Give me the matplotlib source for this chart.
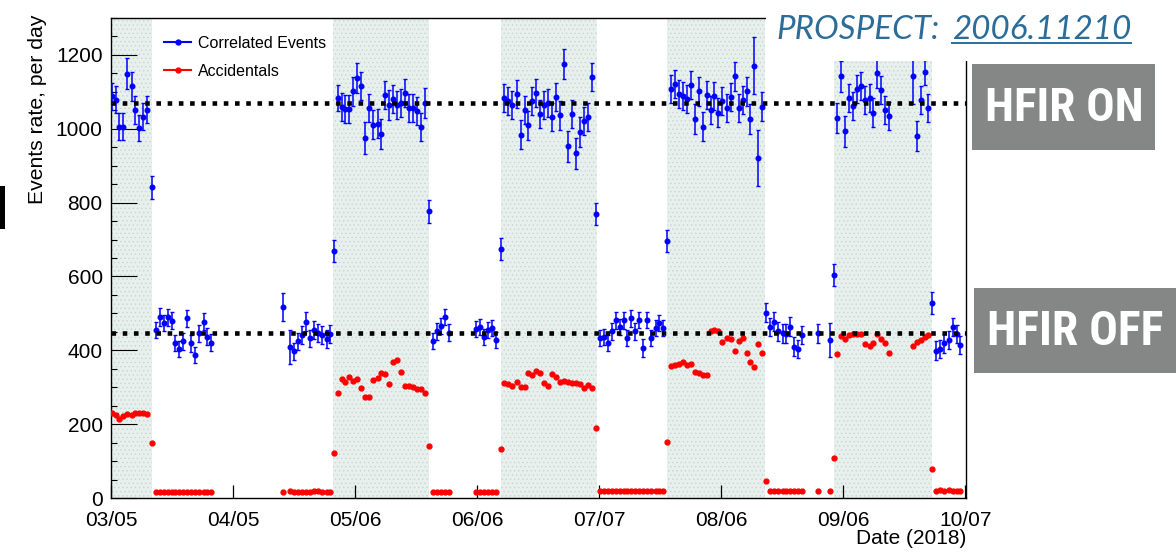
import matplotlib
matplotlib.use('Agg')
import matplotlib.pyplot as plt
from matplotlib import font_manager
from matplotlib.patches import Rectangle
from matplotlib.lines import Line2D

# days since 03/05/2018, one point per day (gaps where no data)
corr_day = [
    0.2, 1.2, 2.0, 3.1, 4.1, 5.2, 6.1, 7.2, 8.2, 9.2, 10.3,
    11.3, 12.3, 13.4, 14.4, 15.3, 16.2, 17.3, 18.2, 19.3, 20.3, 21.3, 22.3, 23.4, 24.4, 25.4,
    43.4, 45.3, 46.3, 47.4, 48.3, 49.3, 50.4, 51.4, 52.4, 53.4, 54.5, 55.5, 56.4,
    57.3, 58.3, 59.2, 60.2, 61.2, 62.3, 63.3, 64.3, 65.3, 66.3, 67.4, 68.4, 69.4, 70.4,
    71.3, 72.3, 73.4, 74.4, 75.4, 76.4, 77.4, 78.4, 79.4, 80.5,
    81.5, 82.5, 83.5, 84.4, 85.4, 92.3, 93.3, 94.3, 95.4, 96.4, 97.4, 98.5,
    99.5, 100.5, 101.5, 102.6, 103.6, 104.6, 105.5, 106.5, 107.5, 108.6, 109.6, 110.6,
    111.6, 112.6, 113.6, 114.6, 115.6, 116.5, 117.5, 118.5, 119.5, 120.5, 121.6, 122.6,
    123.6, 124.6, 125.6, 126.6, 127.6, 128.6, 129.6, 130.6, 131.6, 132.6, 133.6, 134.6,
    135.6, 136.6, 137.7, 138.6, 139.6, 140.5,
    141.6, 142.6, 143.6, 144.6, 145.6, 146.6, 147.7, 148.7, 149.7, 150.6, 151.6, 152.6,
    153.6, 154.6, 155.7, 156.7, 157.7, 158.7, 159.7, 160.7, 161.6, 162.6, 163.6, 164.7,
    165.7, 166.7, 167.7, 168.7, 169.8, 170.8, 171.8, 172.8, 173.8, 174.8, 178.8, 181.8, 182.8,
    183.7, 184.7, 185.7, 186.7, 187.7, 188.7, 189.7, 190.7, 191.8, 192.8, 193.8, 194.8,
    195.8, 196.7, 202.7, 203.8, 204.8, 205.8, 206.7, 207.7,
    208.7, 209.7, 210.7, 211.8, 212.8, 213.8, 214.8,
]

corr_rate = [
    1088, 1079, 1006, 1006, 1149, 1115, 1052, 1002, 1033, 1052, 841,
    455, 491, 473, 490, 480, 419, 404, 424, 487, 419, 388, 446, 477, 437, 421,
    518, 410, 397, 424, 442, 478, 433, 455, 446, 442, 430, 444, 670,
    1083, 1059, 1053, 1054, 1101, 1137, 1117, 975, 1055, 1011, 1014, 986, 1092, 1065,
    1081, 1065, 1071, 1097, 1055, 1055, 1049, 1006, 1070, 776,
    426, 451, 466, 491, 448, 458, 464, 437, 455, 460, 428, 674,
    1083, 1074, 1065, 1095, 984, 1050, 1009, 1074, 1098, 1041, 1065, 1070,
    1033, 1086, 1036, 1176, 952, 1041, 934, 991, 1020, 1032, 1139, 769,
    433, 436, 419, 451, 482, 464, 481, 433, 487, 451, 482, 406,
    482, 433, 460, 473, 460, 695,
    1108, 1122, 1095, 1090, 1081, 1119, 1026, 1101, 1006, 1092, 1050, 1089,
    1044, 1074, 1056, 1087, 1142, 1056, 1077, 1101, 1026, 1171, 921, 1060,
    502, 463, 478, 451, 446, 445, 464, 410, 403, 442, 446, 428, 604,
    1029, 1142, 993, 1083, 1062, 1108, 1115, 1079, 1083, 1044, 1151, 1104,
    1052, 1035, 1142, 981, 1077, 1153, 1056, 529,
    399, 403, 419, 428, 463, 444, 415,
]

corr_err = [
    37, 36, 36, 36, 42, 40, 38, 36, 36, 36, 30,
    22, 24, 22, 23, 23, 22, 22, 22, 23, 23, 22, 23, 23, 23, 22,
    38, 46, 24, 24, 24, 25, 23, 24, 24, 24, 24, 24, 30,
    36, 38, 38, 38, 38, 40, 38, 42, 38, 40, 40, 40, 38, 40,
    38, 38, 38, 38, 38, 38, 38, 38, 40, 30,
    22, 22, 22, 22, 22, 22, 22, 22, 22, 22, 22, 30,
    38, 38, 38, 38, 40, 38, 40, 38, 38, 38, 38, 38,
    38, 38, 38, 40, 42, 38, 42, 40, 38, 38, 38, 30,
    22, 22, 22, 22, 23, 22, 22, 22, 23, 22, 22, 24,
    22, 22, 22, 22, 22, 30,
    38, 38, 38, 38, 38, 38, 40, 38, 40, 38, 38, 38,
    38, 38, 38, 38, 40, 38, 38, 38, 40, 78, 76, 40,
    25, 25, 25, 25, 25, 25, 25, 25, 25, 25, 25, 45, 30,
    40, 42, 42, 38, 38, 38, 38, 38, 38, 38, 40, 38,
    38, 38, 75, 40, 38, 34, 38, 30,
    25, 25, 25, 25, 25, 25, 25,
]

acc_rate = [
    229, 225, 213, 221, 228, 225, 229, 231, 229, 228, 150,
    17, 17, 17, 17, 16, 16, 17, 16, 16, 16, 17, 16, 17, 16, 15,
    16, 18, 17, 17, 16, 17, 17, 18, 18, 17, 17, 16, 121,
    285, 322, 315, 329, 318, 322, 299, 274, 274, 320, 324, 338, 336, 309,
    367, 374, 340, 303, 303, 300, 294, 295, 284, 141,
    15, 15, 16, 15, 16, 17, 17, 16, 16, 16, 17, 132,
    311, 309, 302, 315, 300, 300, 339, 332, 345, 339, 311, 304,
    336, 329, 315, 318, 313, 311, 311, 309, 297, 306, 297, 190,
    19, 20, 19, 19, 19, 19, 19, 19, 19, 19, 20, 19,
    19, 20, 19, 19, 20, 151,
    358, 360, 362, 368, 360, 364, 340, 338, 332, 333, 451, 455,
    451, 423, 433, 431, 399, 426, 433, 394, 367, 356, 417, 394,
    47, 19, 19, 19, 19, 19, 19, 19, 19, 19, 19, 19, 107,
    390, 439, 430, 442, 445, 445, 445, 417, 412, 419, 445, 430,
    421, 394, 412, 423, 428, 437, 442, 78,
    20, 21, 20, 21, 20, 20, 20,
]

# reactor-on periods (days)
on_start = [0.0, 56.2, 98.5, 140.5, 182.8]
on_end = [10.4, 80.3, 122.8, 165.4, 207.6]

on_level = 1070
off_level = 448

x_labels = ['03/05', '04/05', '05/06', '06/06', '07/07', '08/06', '09/06', '10/07']
x_max = 216.2
x_step = 216.0 / 7

W, H = 1176, 554

names = {f.name for f in font_manager.fontManager.ttflist}
cond_font = next((n for n in ['Roboto Condensed', 'Open Sans Condensed',
                              'Liberation Sans Narrow', 'DejaVu Sans Condensed']
                  if n in names), 'DejaVu Sans')
title_font = 'Lato' if 'Lato' in names else 'DejaVu Sans'

plt.rcParams['font.family'] = ['Liberation Sans', 'DejaVu Sans']
plt.rcParams['hatch.linewidth'] = 0.5

fig = plt.figure(figsize=(W / 100, H / 100), dpi=100)
ax = fig.add_axes([111 / W, 1 - 498 / H, (966 - 111) / W, (498 - 18) / H])

for s, e in zip(on_start, on_end):
    ax.axvspan(s, e, facecolor='#e8f0ed', edgecolor='#c3d8d2', hatch='....',
               lw=0, zorder=0)

ax.errorbar(corr_day, corr_rate, yerr=corr_err, fmt='o', color='#0000ff',
            ms=3.3, elinewidth=1.1, capsize=1.5, capthick=1, zorder=3)
ax.plot(corr_day, acc_rate, 'o', color='#ff0000', ms=3.5, zorder=3)

for lvl in (on_level, off_level):
    ax.axhline(lvl, color='black', lw=3.3, linestyle=(0, (1, 1.45)),
               dash_capstyle='butt', zorder=4)

ax.set_xlim(0, x_max)
ax.set_ylim(0, 1300)
ax.set_xticks([i * x_step for i in range(len(x_labels))], x_labels)
ax.set_yticks(range(0, 1201, 200))
ax.set_yticks(range(0, 1301, 50), minor=True)
ax.tick_params(axis='x', which='major', direction='in', length=9.4, width=0.9,
               labelsize=15, pad=9)
ax.tick_params(axis='x', which='minor', bottom=False)
ax.tick_params(axis='y', which='major', direction='in', length=19, width=0.8,
               labelsize=15, pad=6)
ax.tick_params(axis='y', which='minor', direction='in', length=4.3, width=0.8)
for sp in ax.spines.values():
    sp.set_linewidth(1.0)

handles = [Line2D([], [], color='#0000ff', marker='o', ms=3.5, lw=1.5),
           Line2D([], [], color='#ff0000', marker='o', ms=3.5, lw=1.5)]
ax.legend(handles, ['Correlated Events', 'Accidentals'], loc='upper left',
          bbox_to_anchor=(164 / W, 1 - 36 / H), bbox_transform=fig.transFigure,
          frameon=False, borderpad=0, borderaxespad=0, handlelength=1.7,
          handletextpad=0.45, labelspacing=0.8, fontsize=11.5, numpoints=1)

fig.text(38 / W, 1 - 15 / H, 'Events rate, per day', rotation=90, ha='center',
         va='top', fontsize=15.2)
fig.text(966 / W, 1 - 539 / H, 'Date (2018)', ha='right', va='center',
         fontsize=15)

# white area behind the slide title, the grey labels, the stray bar at left
fig.patches.append(Rectangle((766 / W, 1 - 61 / H), (W - 766) / W, 61 / H,
                             transform=fig.transFigure, facecolor='white',
                             edgecolor='none', zorder=5))
fig.patches.append(Rectangle((972 / W, 1 - 150 / H), (1155 - 972) / W, 86 / H,
                             transform=fig.transFigure, facecolor='#858787',
                             edgecolor='none', zorder=5))
fig.patches.append(Rectangle((974 / W, 1 - 373 / H), (W - 974) / W, 85 / H,
                             transform=fig.transFigure, facecolor='#858787',
                             edgecolor='none', zorder=5))
fig.patches.append(Rectangle((0, 1 - 229 / H), 5 / W, 43 / H,
                             transform=fig.transFigure, facecolor='black',
                             edgecolor='none', zorder=5))

renderer = fig.canvas.get_renderer()


def fit_width(t, target):
    w = t.get_window_extent(renderer=renderer).width
    t.set_fontsize(t.get_fontsize() * target / w)


lab_on = fig.text(1064.5 / W, 1 - 121 / H, 'HFIR ON', ha='center', va='baseline',
                  color='white', family=cond_font, weight='semibold',
                  fontsize=40, zorder=6)
lab_off = fig.text(1075 / W, 1 - 345 / H, 'HFIR OFF', ha='center', va='baseline',
                   color='white', family=cond_font, weight='semibold',
                   fontsize=40, zorder=6)
fit_width(lab_on, 158)
fit_width(lab_off, 176)

title_col = '#2b6d98'
num = fig.text(1131 / W, 1 - 39 / H, '2006.11210', ha='right', va='baseline',
               style='italic', family=title_font, color=title_col, fontsize=22,
               zorder=6)
fit_width(num, 179)
bb = num.get_window_extent(renderer=renderer)
fig.text((bb.x0 - 12) / W, 1 - 39 / H, 'PROSPECT:', ha='right', va='baseline',
         style='italic', family=title_font, color=title_col,
         fontsize=num.get_fontsize(), zorder=6)
fig.lines.append(Line2D([bb.x0 / W, bb.x1 / W], [1 - 42.5 / H, 1 - 42.5 / H],
                        transform=fig.transFigure, color=title_col, lw=1.4,
                        zorder=6))

fig.savefig('out.png', dpi=100)
